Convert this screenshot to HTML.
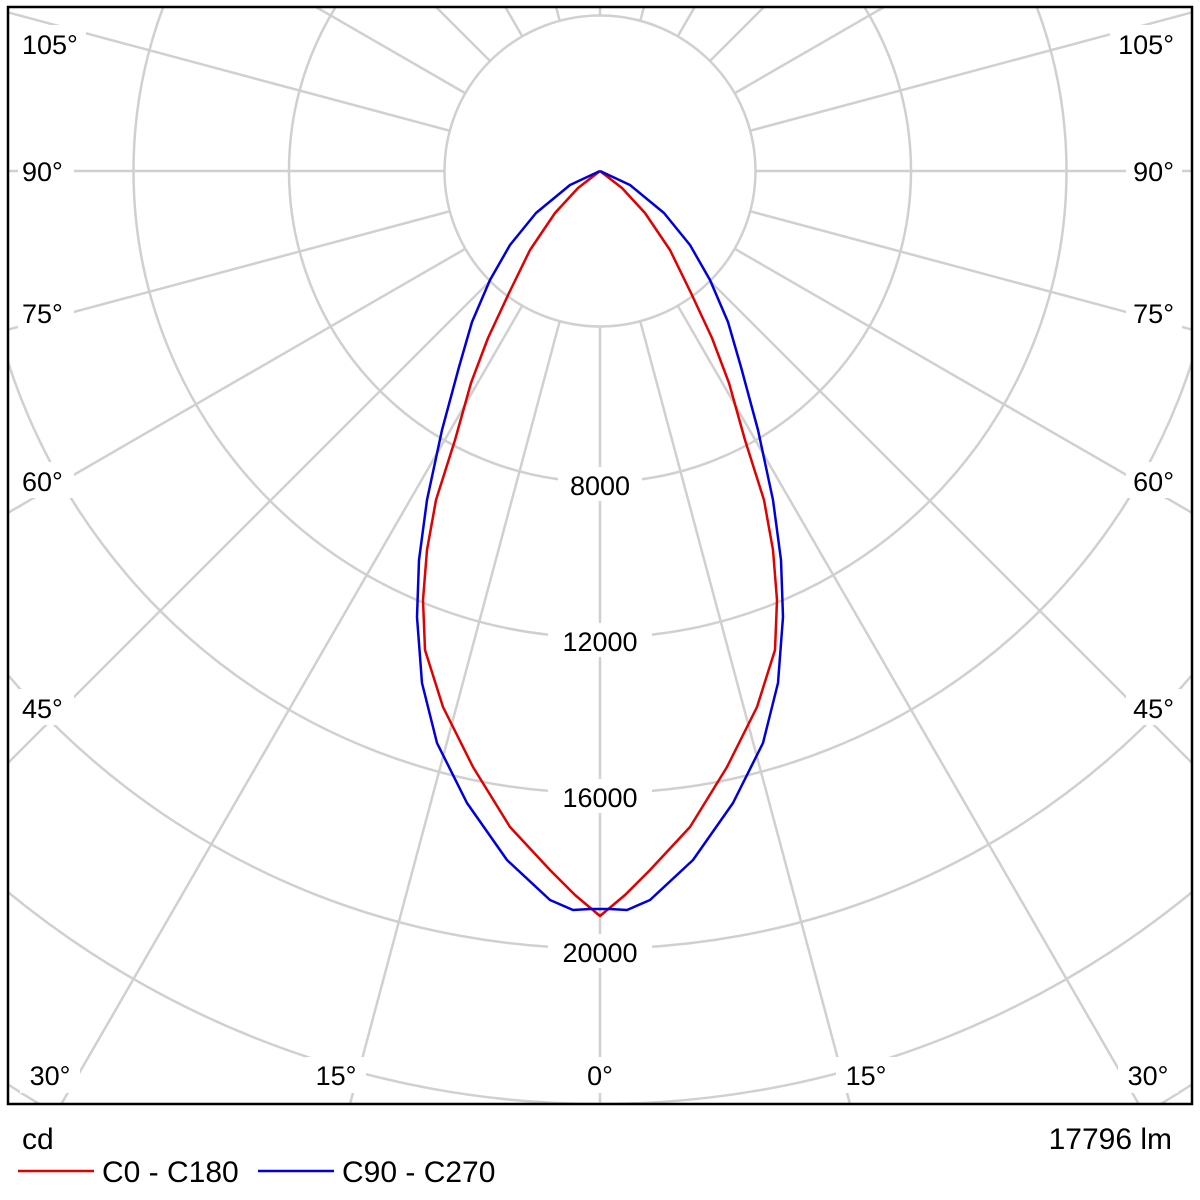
<!DOCTYPE html>
<html><head><meta charset="utf-8"><style>
html,body{margin:0;padding:0;background:#fff;width:1200px;height:1200px;overflow:hidden;}
svg{display:block;font-family:"Liberation Sans","DejaVu Sans",sans-serif;}
</style></head><body>
<svg width="1200" height="1200" viewBox="0 0 1200 1200" xmlns="http://www.w3.org/2000/svg">
<defs><clipPath id="c"><rect x="8" y="7" width="1184" height="1097"/></clipPath></defs>
<g clip-path="url(#c)" stroke="#d0d0d0" stroke-width="2.5" fill="none">
<circle cx="600" cy="171" r="155.5"/><circle cx="600" cy="171" r="311"/><circle cx="600" cy="171" r="466.5"/><circle cx="600" cy="171" r="622"/><circle cx="600" cy="171" r="777.5"/><circle cx="600" cy="171" r="933"/><circle cx="600" cy="171" r="1088.5"/><circle cx="600" cy="171" r="1244"/>
<line x1="600" y1="326.5" x2="600" y2="1700"/>
<line x1="600" y1="326.5" x2="600" y2="1700" transform="rotate(15 600 171)"/>
<line x1="600" y1="326.5" x2="600" y2="1700" transform="rotate(30 600 171)"/>
<line x1="600" y1="326.5" x2="600" y2="1700" transform="rotate(45 600 171)"/>
<line x1="600" y1="326.5" x2="600" y2="1700" transform="rotate(60 600 171)"/>
<line x1="600" y1="326.5" x2="600" y2="1700" transform="rotate(75 600 171)"/>
<line x1="600" y1="326.5" x2="600" y2="1700" transform="rotate(90 600 171)"/>
<line x1="600" y1="326.5" x2="600" y2="1700" transform="rotate(105 600 171)"/>
<line x1="600" y1="326.5" x2="600" y2="1700" transform="rotate(120 600 171)"/>
<line x1="600" y1="326.5" x2="600" y2="1700" transform="rotate(135 600 171)"/>
<line x1="600" y1="326.5" x2="600" y2="1700" transform="rotate(150 600 171)"/>
<line x1="600" y1="326.5" x2="600" y2="1700" transform="rotate(165 600 171)"/>
<line x1="600" y1="326.5" x2="600" y2="1700" transform="rotate(180 600 171)"/>
<line x1="600" y1="326.5" x2="600" y2="1700" transform="rotate(195 600 171)"/>
<line x1="600" y1="326.5" x2="600" y2="1700" transform="rotate(210 600 171)"/>
<line x1="600" y1="326.5" x2="600" y2="1700" transform="rotate(225 600 171)"/>
<line x1="600" y1="326.5" x2="600" y2="1700" transform="rotate(240 600 171)"/>
<line x1="600" y1="326.5" x2="600" y2="1700" transform="rotate(255 600 171)"/>
<line x1="600" y1="326.5" x2="600" y2="1700" transform="rotate(270 600 171)"/>
<line x1="600" y1="326.5" x2="600" y2="1700" transform="rotate(285 600 171)"/>
<line x1="600" y1="326.5" x2="600" y2="1700" transform="rotate(300 600 171)"/>
<line x1="600" y1="326.5" x2="600" y2="1700" transform="rotate(315 600 171)"/>
<line x1="600" y1="326.5" x2="600" y2="1700" transform="rotate(330 600 171)"/>
<line x1="600" y1="326.5" x2="600" y2="1700" transform="rotate(345 600 171)"/>
</g>
<g font-size="27" fill="#000">
<g fill="#fff">
<rect x="18" y="25" width="68" height="36"/><rect x="18" y="152" width="56" height="36"/><rect x="18" y="294" width="56" height="36"/><rect x="18" y="462" width="56" height="36"/><rect x="18" y="689" width="56" height="36"/>
<rect x="1110" y="25" width="68" height="36"/><rect x="1126" y="152" width="56" height="36"/><rect x="1126" y="294" width="56" height="36"/><rect x="1126" y="462" width="56" height="36"/><rect x="1126" y="689" width="56" height="36"/>
<rect x="20" y="1057" width="60" height="36"/><rect x="306" y="1057" width="60" height="36"/><rect x="576" y="1057" width="48" height="36"/><rect x="836" y="1057" width="60" height="36"/><rect x="1118" y="1057" width="60" height="36"/>
<rect x="558" y="467" width="84" height="34"/><rect x="548" y="623" width="104" height="34"/><rect x="548" y="779" width="104" height="34"/><rect x="548" y="934" width="104" height="34"/>
</g>
<text x="22" y="54">105°</text><text x="22" y="181">90°</text><text x="22" y="323">75°</text><text x="22" y="491">60°</text><text x="22" y="718">45°</text>
<text x="1174" y="54" text-anchor="end">105°</text><text x="1174" y="181" text-anchor="end">90°</text><text x="1174" y="323" text-anchor="end">75°</text><text x="1174" y="491" text-anchor="end">60°</text><text x="1174" y="718" text-anchor="end">45°</text>
<text x="50" y="1085" text-anchor="middle">30°</text><text x="336" y="1085" text-anchor="middle">15°</text><text x="600" y="1085" text-anchor="middle">0°</text><text x="866" y="1085" text-anchor="middle">15°</text><text x="1148" y="1085" text-anchor="middle">30°</text>
<text x="600" y="495" text-anchor="middle">8000</text><text x="600" y="651" text-anchor="middle">12000</text><text x="600" y="807" text-anchor="middle">16000</text><text x="600" y="962" text-anchor="middle">20000</text>
</g>
<polyline fill="none" stroke="#e00000" stroke-width="2.5" stroke-linejoin="round" points="600,171 578,188 555,213 530,250 509,293 488,338 471,383 455,440 436,500 427,550 423,600 425,650 443,707 473,767 510,827 550,870 575,895 600,916 625,895 650,870 690,827 727,767 757,707 775,650 777,600 773,550 764,500 745,440 729,383 712,338 691,293 670,250 645,213 622,188 600,171"/>
<polyline fill="none" stroke="#0000dd" stroke-width="2.5" stroke-linejoin="round" points="600,171 570,185 536,213 510,245 490,280 472,322 459,367 442,430 427,500 419,560 417,617 422,683 437,743 467,803 507,860 550,900 573,910 590,909 600,909 610,909 627,910 650,900 693,860 733,803 763,743 778,683 783,617 781,560 773,500 758,430 741,367 728,322 710,280 690,245 664,213 630,185 600,171"/>
<rect x="8" y="7" width="1184" height="1097" fill="none" stroke="#000" stroke-width="2.5"/>
<g font-size="30" fill="#000">
<text x="22" y="1149">cd</text>
<text x="1172" y="1149" text-anchor="end">17796 lm</text>
<text x="102" y="1182">C0 - C180</text>
<text x="342" y="1182">C90 - C270</text>
</g>
<line x1="18" y1="1171" x2="94" y2="1171" stroke="#e00000" stroke-width="2.5"/>
<line x1="258" y1="1171" x2="334" y2="1171" stroke="#0000dd" stroke-width="2.5"/>
</svg>
</body></html>
